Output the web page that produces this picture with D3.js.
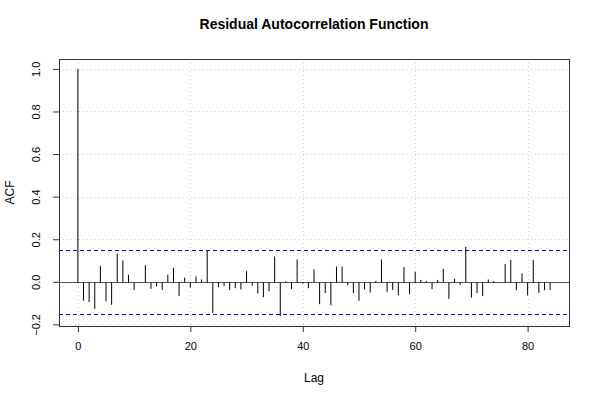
<!DOCTYPE html>
<html><head><meta charset="utf-8">
<script src="https://cdn.jsdelivr.net/npm/d3@7"></script>
<style>body{margin:0;background:#fff}svg{display:block}text{font-family:"Liberation Sans",Arial,sans-serif}</style>
</head><body>
<script>
const lags = d3.range(0, 85);
const acf = [1.0,-0.088,-0.095,-0.127,0.075,-0.092,-0.108,0.133,0.101,0.033,
-0.038,-0.006,0.078,-0.033,-0.022,-0.038,0.034,0.066,-0.067,0.020,
-0.027,0.025,0.011,0.148,-0.146,-0.025,-0.020,-0.038,-0.030,-0.036,
0.050,-0.019,-0.055,-0.072,-0.044,0.119,-0.161,0.003,-0.034,0.105,
-0.008,-0.030,0.058,-0.105,-0.053,-0.110,0.072,0.072,-0.016,-0.053,
-0.089,-0.036,-0.050,0.004,0.105,-0.047,-0.038,-0.063,0.069,-0.058,
0.047,0.009,0.003,-0.035,0.009,0.061,-0.080,0.014,-0.014,0.164,
-0.074,-0.053,-0.067,0.011,0.003,-0.003,0.084,0.103,-0.039,0.039,
-0.064,0.103,-0.052,-0.039,-0.038];
const ciLimits = [0.1515, -0.1515];
const xTicks = [0,20,40,60,80];
const yTicks = [-0.2,0.0,0.2,0.4,0.6,0.8,1.0];
const title = "Residual Autocorrelation Function";

const W=600,H=400, L=59, R=569, T=59, B=326;
const svg=d3.select("body").append("svg").attr("width",W).attr("height",H);
const xmax=d3.max(lags), xpad=0.04*xmax;
const x=d3.scaleLinear().domain([-xpad,xmax+xpad]).range([L,R]);
const ymin=Math.min(d3.min(acf),d3.min(ciLimits)), ymaxv=1, yr=ymaxv-ymin;
const y=d3.scaleLinear().domain([ymin-0.04*yr, ymaxv+0.04*yr]).range([B,T]);
const snap=v=>Math.round(v)+0.5;

// grid
svg.append("g").selectAll("line").data(xTicks).join("line")
 .attr("x1",d=>snap(x(d))).attr("x2",d=>snap(x(d))).attr("y1",T).attr("y2",B)
 .attr("stroke","#d3d3d3").attr("stroke-dasharray","1,3");
svg.append("g").selectAll("line").data(yTicks).join("line")
 .attr("x1",L).attr("x2",R).attr("y1",d=>snap(y(d))).attr("y2",d=>snap(y(d)))
 .attr("stroke","#d3d3d3").attr("stroke-dasharray","1,3");

// zero line
svg.append("line").attr("x1",L).attr("x2",R).attr("y1",snap(y(0))).attr("y2",snap(y(0))).attr("stroke","#555");
// bars
svg.append("g").selectAll("line").data(lags).join("line")
 .attr("x1",d=>x(d)).attr("x2",d=>x(d)).attr("y1",snap(y(0))).attr("y2",(d,i)=>y(acf[i]))
 .attr("stroke","#000").attr("stroke-width",1);
// CI
svg.append("g").attr("class","ci").selectAll("line").data(ciLimits).join("line")
 .attr("x1",L).attr("x2",R).attr("y1",d=>snap(y(d))).attr("y2",d=>snap(y(d)))
 .attr("stroke","#0000ff").attr("stroke-dasharray","4,3").attr("stroke-width",1)
 .attr("shape-rendering","crispEdges");

// frame
svg.append("rect").attr("x",L+0.5).attr("y",T+0.5).attr("width",R-L).attr("height",B-T).attr("fill","none").attr("stroke","#333");

// axes
const xa=svg.append("g").attr("transform",`translate(0,${B})`)
 .call(d3.axisBottom(x).tickValues(xTicks).tickSize(6).tickPadding(10).tickFormat(d3.format("d")));
xa.select(".domain").attr("d",`M${x(0)},0.5H${x(80)}`).attr("stroke","#333");
xa.selectAll(".tick line").attr("stroke","#333");
xa.selectAll("text").attr("font-size",11).attr("fill","#000");
const ya=svg.append("g").attr("transform",`translate(${L},0)`)
 .call(d3.axisLeft(y).tickValues(yTicks).tickSize(6).tickFormat(d3.format(".1f")));
ya.select(".domain").attr("d",`M0.5,${y(-0.2)}V${y(1)}`).attr("stroke","#333");
ya.selectAll(".tick line").attr("stroke","#333");
ya.selectAll(".tick text").attr("transform","rotate(-90)").attr("x",0).attr("y",-19)
 .attr("dy","0").attr("text-anchor","middle").attr("font-size",11).attr("fill","#000")
 .text(d=>d<0?"\u22120.2":d3.format(".1f")(d));

svg.append("text").attr("x",(L+R)/2).attr("y",29).attr("text-anchor","middle")
 .attr("font-weight","bold").attr("font-size",14).text(title);
svg.append("text").attr("x",(L+R)/2).attr("y",382).attr("text-anchor","middle").attr("font-size",12).text("Lag");
svg.append("text").attr("transform",`translate(14,${(T+B)/2}) rotate(-90)`).attr("text-anchor","middle").attr("font-size",12).text("ACF");
</script>
</body></html>
